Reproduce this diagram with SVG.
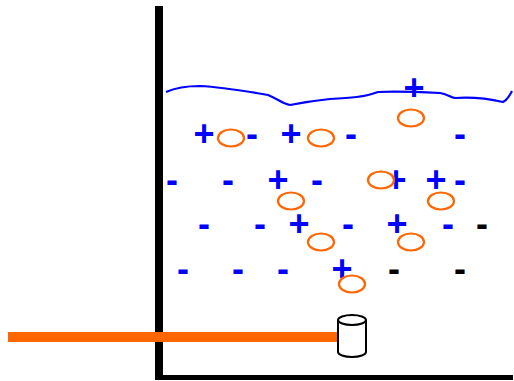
<svg xmlns="http://www.w3.org/2000/svg" width="514" height="381" viewBox="0 0 514 381">
  <style>
    .pos { font-family: "Liberation Sans", Arial, sans-serif; font-size: 36px; font-weight: bold; fill: #0000ff; text-anchor: middle; }
    .neg { font-family: "Liberation Sans", Arial, sans-serif; font-size: 36px; font-weight: bold; fill: #0000ff; text-anchor: middle; }
    .neg.dark { fill: #000000; }
    .ion { fill: #ffffff; stroke: #ff6600; stroke-width: 2.2; }
    .wall { fill: #000000; }
  </style>
  <rect width="514" height="381" fill="#ffffff"/>

  <!-- container walls -->
  <g id="container">
    <rect class="wall" x="155" y="6" width="8" height="374"/>
    <rect class="wall" x="157" y="375" width="356" height="5"/>
  </g>

  <!-- liquid surface -->
  <g id="surface">
    <path d="M166,92 C175,88 185,86 200,86 C220,87 245,91 268,95 C278,99 283,104 290,105 C300,103 310,101 330,99 C350,98 365,97 378,92 C395,91 420,92 440,93 C447,94 450,97 455,98 C470,97 490,99 503,102 C507,100 510,95 512,91" fill="none" stroke="#0000ff" stroke-width="2.2"/>
  </g>

  <!-- electrode lead -->
  <g id="lead">
    <rect x="8" y="332" width="330" height="10" fill="#ff6600"/>
  </g>

  <!-- electrode -->
  <g id="electrode">
    <path d="M338,320 L338,352 A14,5 0 0 0 366,352 L366,320" fill="#ffffff" stroke="#000000" stroke-width="2"/>
    <ellipse cx="352" cy="320" rx="14" ry="5" fill="#ffffff" stroke="#000000" stroke-width="2"/>
  </g>

  <!-- charges -->
  <g id="charges">
    <text class="pos" x="414" y="100">+</text>

    <text class="pos" x="204" y="146">+</text>
    <text class="neg" x="252" y="146">-</text>
    <text class="pos" x="291" y="146">+</text>
    <text class="neg" x="351" y="146">-</text>
    <text class="neg" x="460" y="146">-</text>

    <text class="neg" x="172" y="192">-</text>
    <text class="neg" x="228" y="192">-</text>
    <text class="pos" x="278" y="192">+</text>
    <text class="neg" x="317" y="192">-</text>
    <text class="pos" x="396" y="192">+</text>
    <text class="pos" x="436" y="192">+</text>
    <text class="neg" x="460" y="192">-</text>

    <text class="neg" x="204" y="236">-</text>
    <text class="neg" x="260" y="236">-</text>
    <text class="pos" x="299" y="236">+</text>
    <text class="neg" x="348" y="236">-</text>
    <text class="pos" x="397" y="236">+</text>
    <text class="neg" x="448" y="236">-</text>
    <text class="neg dark" x="482" y="236">-</text>

    <text class="neg" x="183" y="281">-</text>
    <text class="neg" x="238" y="281">-</text>
    <text class="neg" x="283" y="281">-</text>
    <text class="pos" x="342" y="281">+</text>
    <text class="neg dark" x="394" y="281">-</text>
    <text class="neg dark" x="460" y="281">-</text>
  </g>

  <!-- neutral particles, drawn over the charges -->
  <g id="particles">
    <ellipse class="ion" cx="231" cy="138" rx="13" ry="8.5"/>
    <ellipse class="ion" cx="321" cy="138" rx="13" ry="8.5"/>
    <ellipse class="ion" cx="411" cy="118" rx="13" ry="8.5"/>
    <ellipse class="ion" cx="381" cy="180" rx="13" ry="8.5"/>
    <ellipse class="ion" cx="291" cy="201" rx="13" ry="8.5"/>
    <ellipse class="ion" cx="441" cy="201" rx="13" ry="8.5"/>
    <ellipse class="ion" cx="321" cy="242" rx="13" ry="8.5"/>
    <ellipse class="ion" cx="411" cy="242" rx="13" ry="8.5"/>
    <ellipse class="ion" cx="352" cy="284" rx="13" ry="8.5"/>
  </g>
</svg>
